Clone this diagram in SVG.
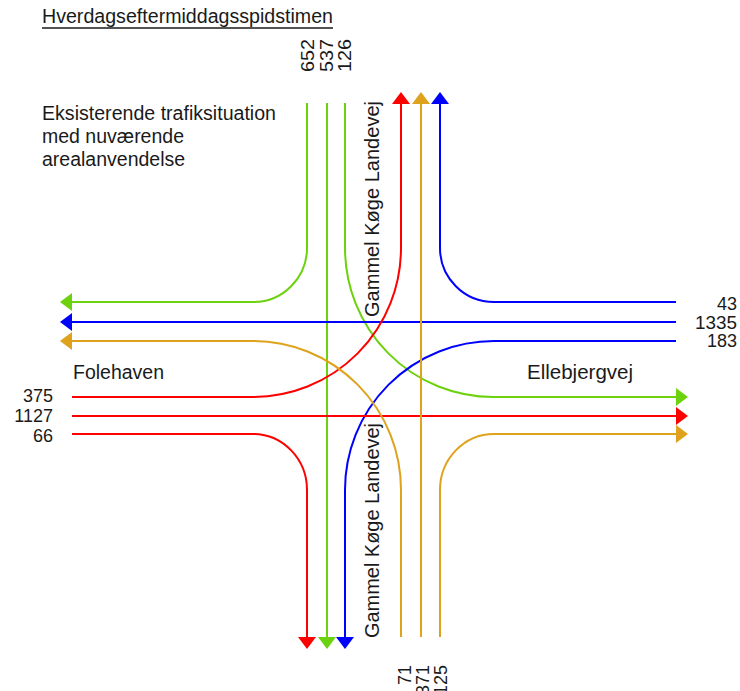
<svg xmlns="http://www.w3.org/2000/svg" width="740" height="691" viewBox="0 0 740 691">
<style>
  text { font-family: "Liberation Sans", Arial, sans-serif; font-size: 19.5px; fill: #1a1a1a; }
  .num { font-size: 18px; }
  .ln { fill: none; stroke-width: 2; }
  .r { stroke: #ff0000; }
  .g { stroke: #6cd20e; }
  .b { stroke: #0000ff; }
  .o { stroke: #dea21c; }
  .end { text-anchor: end; }
</style>
<defs>
  <marker id="mr" markerUnits="userSpaceOnUse" markerWidth="12" markerHeight="18" viewBox="0 0 12 18" refX="0" refY="9" orient="auto"><path d="M0,0 L12,9 L0,18 Z" fill="#ff0000"/></marker>
  <marker id="mg" markerUnits="userSpaceOnUse" markerWidth="12" markerHeight="18" viewBox="0 0 12 18" refX="0" refY="9" orient="auto"><path d="M0,0 L12,9 L0,18 Z" fill="#6cd20e"/></marker>
  <marker id="mb" markerUnits="userSpaceOnUse" markerWidth="12" markerHeight="18" viewBox="0 0 12 18" refX="0" refY="9" orient="auto"><path d="M0,0 L12,9 L0,18 Z" fill="#0000ff"/></marker>
  <marker id="mo" markerUnits="userSpaceOnUse" markerWidth="12" markerHeight="18" viewBox="0 0 12 18" refX="0" refY="9" orient="auto"><path d="M0,0 L12,9 L0,18 Z" fill="#dea21c"/></marker>
</defs>

<g id="title">
  <text x="42" y="23" textLength="291" lengthAdjust="spacingAndGlyphs">Hverdagseftermiddagsspidstimen</text>
  <line x1="42" y1="28" x2="333" y2="28" stroke="#1a1a1a" stroke-width="1.6"/>
</g>

<g id="description">
  <text x="42" y="120" textLength="234" lengthAdjust="spacingAndGlyphs">Eksisterende trafiksituation</text>
  <text x="42" y="143">med nuværende</text>
  <text x="42" y="166">arealanvendelse</text>
</g>

<g id="connectors">
  <path class="ln g" d="M307,103 V248 A54,54 0 0 1 253,302 H72" marker-end="url(#mg)"/>
  <path class="ln g" d="M327,103 V637" marker-end="url(#mg)"/>
  <path class="ln g" d="M345,103 V248 A148,149 0 0 0 493,397 H676" marker-end="url(#mg)"/>
  <path class="ln b" d="M676,302 H494 A54,54 0 0 1 440,248 V104" marker-end="url(#mb)"/>
  <path class="ln b" d="M676,322 H72" marker-end="url(#mb)"/>
  <path class="ln b" d="M676,341 H494 A149,149 0 0 0 345,490 V637" marker-end="url(#mb)"/>
  <path class="ln r" d="M72,397 H253 A148,149 0 0 0 401,248 V104" marker-end="url(#mr)"/>
  <path class="ln r" d="M72,416 H676" marker-end="url(#mr)"/>
  <path class="ln r" d="M72,434 H253 A54,56 0 0 1 307,490 V637" marker-end="url(#mr)"/>
  <path class="ln o" d="M401,637 V490 A148,149 0 0 0 253,341 H72" marker-end="url(#mo)"/>
  <path class="ln o" d="M421,637 V104" marker-end="url(#mo)"/>
  <path class="ln o" d="M440,637 V490 A54,56 0 0 1 494,434 H676" marker-end="url(#mo)"/>
</g>

<g id="north-labels">
  <text class="num" transform="translate(314,72) rotate(-90)" textLength="33" lengthAdjust="spacingAndGlyphs">652</text>
  <text class="num" transform="translate(333,72) rotate(-90)" textLength="33" lengthAdjust="spacingAndGlyphs">537</text>
  <text class="num" transform="translate(351,72) rotate(-90)" textLength="33" lengthAdjust="spacingAndGlyphs">126</text>
</g>

<g id="east-labels">
  <text class="num end" x="737" y="310">43</text>
  <text class="num end" x="737" y="328.5" textLength="42" lengthAdjust="spacingAndGlyphs">1335</text>
  <text class="num end" x="737" y="347">183</text>
</g>

<g id="west-labels">
  <text class="num end" x="53" y="402">375</text>
  <text class="num end" x="53" y="422">1127</text>
  <text class="num end" x="53" y="442">66</text>
</g>

<g id="south-labels">
  <text class="num end" transform="translate(411,665) rotate(-90)">71</text>
  <text class="num end" transform="translate(429,665) rotate(-90)">371</text>
  <text class="num end" transform="translate(447,665) rotate(-90)">125</text>
</g>

<g id="street-names">
  <text x="73" y="379">Folehaven</text>
  <text x="527" y="379" textLength="106" lengthAdjust="spacingAndGlyphs">Ellebjergvej</text>
  <text transform="translate(379,317) rotate(-90)" textLength="216" lengthAdjust="spacingAndGlyphs">Gammel Køge Landevej</text>
  <text transform="translate(379,638) rotate(-90)" textLength="215" lengthAdjust="spacingAndGlyphs">Gammel Køge Landevej</text>
</g>
</svg>
